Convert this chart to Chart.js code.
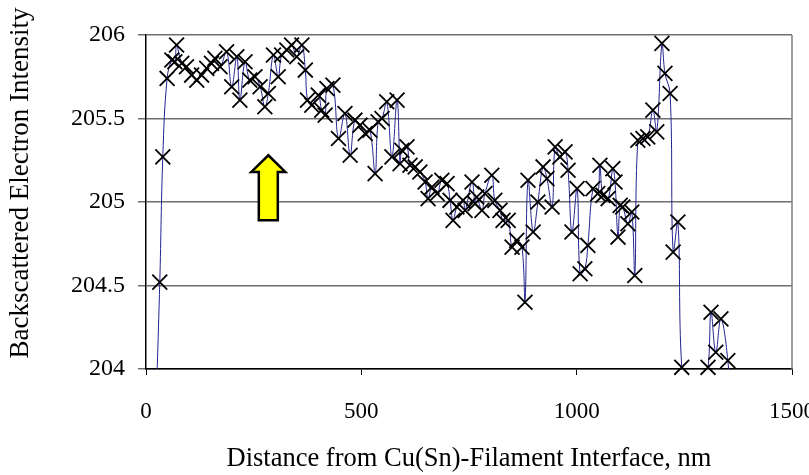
<!DOCTYPE html>
<html>
<head>
<meta charset="utf-8">
<script src="https://cdn.jsdelivr.net/npm/chart.js@4"></script>
<style>
  html, body { margin: 0; padding: 0; background: #fff; }
  #wrap { width: 809px; height: 475px; position: relative; }
</style>
</head>
<body>
<div id="wrap"><canvas id="bse-chart"></canvas></div>
<script>
// --- dados ---
const distanceNm = [
  20, 32, 39, 49, 60, 67, 71, 83, 94, 106, 118, 129, 141, 152, 160, 172, 187, 199, 211, 218,
  230, 241, 253, 265, 276, 284, 296, 307, 315, 327, 338, 350, 362, 370, 375, 385, 400, 408, 416, 420,
  434, 447, 462, 474, 485, 497, 509, 520, 532, 539, 548, 559, 571, 583, 590, 594, 606, 613, 625, 636,
  648, 655, 664, 676, 687, 699, 706, 713, 722, 736, 741, 757, 764, 768, 780, 787, 803, 810, 822, 829,
  841, 850, 861, 873, 880, 887, 899, 910, 922, 931, 943, 950, 961, 973, 980, 989, 1001, 1008, 1019, 1026,
  1038, 1049, 1054, 1061, 1073, 1084, 1089, 1096, 1101, 1107, 1119, 1128, 1135, 1142, 1154, 1165, 1177, 1186, 1198, 1205,
  1217, 1224, 1235, 1244, 1270, 1305, 1312, 1323, 1335, 1351, 1362
];
const intensity = [
  203.5, 204.52, 205.27, 205.74, 205.85, 205.84, 205.94, 205.83, 205.81, 205.76, 205.73, 205.76, 205.80, 205.83, 205.86, 205.81, 205.90, 205.69, 205.87, 205.61,
  205.84, 205.73, 205.75, 205.69, 205.57, 205.65, 205.88, 205.75, 205.88, 205.91, 205.94, 205.87, 205.94, 205.79, 205.61, 205.58, 205.64, 205.55, 205.52, 205.68,
  205.70, 205.38, 205.53, 205.28, 205.49, 205.46, 205.41, 205.43, 205.17, 205.48, 205.50, 205.60, 205.27, 205.61, 205.23, 205.31, 205.33, 205.22, 205.21, 205.18,
  205.12, 205.02, 205.09, 205.05, 205.13, 205.11, 205.01, 204.89, 204.97, 205.01, 204.95, 205.12, 204.99, 205.03, 204.95, 205.05, 205.16, 205.01, 204.95, 204.89,
  204.89, 204.73, 204.77, 204.73, 204.40, 205.13, 204.82, 205.00, 205.21, 205.14, 204.97, 205.33, 205.27, 205.30, 205.19, 204.82, 205.08, 204.57, 204.60, 204.74,
  205.08, 205.05, 205.22, 205.04, 205.02, 205.20, 205.12, 204.79, 204.98, 204.97, 204.87, 204.94, 204.56, 205.37, 205.38, 205.39, 205.55, 205.42, 205.95, 205.77,
  205.65, 204.70, 204.88, 204.01, 203.4, 204.01, 204.34, 204.10, 204.30, 204.05, 203.6
];
const xTicks = [0, 500, 1000, 1500];
const yTicks = [204, 204.5, 205, 205.5, 206];

// seta amarela (posição em unidades do gráfico)
const arrowAt = { x: 284, tip: 205.28, headBase: 205.18, bottom: 204.89 };

const yTitle = 'Backscattered Electron Intensity';

const allPoints = distanceNm.map((d, i) => ({ x: d, y: intensity[i] }));
const visiblePoints = allPoints.filter(p => p.y >= yTicks[0] && p.y <= yTicks[yTicks.length - 1]);

const serif = "'Liberation Serif', 'DejaVu Serif', serif";

const frameAndArrow = {
  id: 'frameAndArrow',
  beforeDatasetsDraw(chart) {
    const { ctx, chartArea } = chart;
    ctx.save();
    ctx.strokeStyle = '#808080';
    ctx.lineWidth = 1.5;
    ctx.beginPath();
    ctx.moveTo(chartArea.right, chartArea.top);
    ctx.lineTo(chartArea.right, chartArea.bottom);
    ctx.stroke();
    ctx.restore();
  },
  afterDraw(chart) {
    const { ctx } = chart;
    const xs = chart.scales.x, ys = chart.scales.y;
    const cx = xs.getPixelForValue(arrowAt.x);
    const tipY = ys.getPixelForValue(arrowAt.tip);
    const headY = ys.getPixelForValue(arrowAt.headBase);
    const botY = ys.getPixelForValue(arrowAt.bottom);
    const headHalf = 17, bodyHalf = 9.5;
    ctx.save();
    ctx.beginPath();
    ctx.moveTo(cx, tipY);
    ctx.lineTo(cx + headHalf, headY);
    ctx.lineTo(cx + bodyHalf, headY);
    ctx.lineTo(cx + bodyHalf, botY);
    ctx.lineTo(cx - bodyHalf, botY);
    ctx.lineTo(cx - bodyHalf, headY);
    ctx.lineTo(cx - headHalf, headY);
    ctx.closePath();
    ctx.fillStyle = '#FFFF00';
    ctx.fill();
    ctx.lineWidth = 2.5;
    ctx.strokeStyle = '#000';
    ctx.stroke();

    // titulo do eixo y (um pouco acima do centro, como no original)
    ctx.translate(21, 183);
    ctx.rotate(-Math.PI / 2);
    ctx.font = `27px ${serif}`;
    ctx.fillStyle = '#000';
    ctx.textAlign = 'center';
    ctx.textBaseline = 'middle';
    ctx.fillText(yTitle, 0, 0);
    ctx.restore();
  }
};

new Chart(document.getElementById('bse-chart'), {
  type: 'line',
  data: {
    datasets: [
      {
        data: allPoints,
        borderColor: '#23238f',
        borderWidth: 1,
        tension: 0.4,
        pointRadius: 0,
        fill: false,
        order: 2
      },
      {
        data: visiblePoints,
        showLine: false,
        pointStyle: 'crossRot',
        pointRadius: 10.5,
        pointBorderWidth: 1.8,
        pointBorderColor: '#000',
        pointBackgroundColor: '#000',
        clip: false,
        order: 1
      }
    ]
  },
  options: {
    responsive: true,
    maintainAspectRatio: false,
    animation: false,
    events: [],
    layout: { padding: { left: 0, right: 17, top: 35, bottom: 0 } },
    plugins: { legend: { display: false }, tooltip: { enabled: false } },
    scales: {
      x: {
        type: 'linear',
        min: 0,
        max: 1500,
        afterBuildTicks: (s) => { s.ticks = xTicks.map(v => ({ value: v })); },
        afterFit: (s) => { s.height = 106; s.paddingLeft = 0; s.paddingRight = 0; },
        border: { color: '#000', width: 1.5 },
        grid: { drawOnChartArea: false, drawTicks: true, tickLength: 6, color: '#000' },
        ticks: {
          color: '#000',
          font: { family: serif, size: 23 },
          padding: 23,
          maxRotation: 0,
          callback: (v) => String(v)
        },
        title: {
          display: true,
          text: 'Distance from Cu(Sn)-Filament Interface, nm',
          color: '#000',
          font: { family: serif, size: 26.5 },
          padding: { top: 2, bottom: 0 }
        }
      },
      y: {
        min: 204,
        max: 206,
        afterBuildTicks: (s) => { s.ticks = yTicks.map(v => ({ value: v })); },
        afterFit: (s) => { s.width = 146; s.paddingTop = 0; s.paddingBottom = 0; },
        border: { color: '#000', width: 1.5 },
        grid: { color: '#6e6e6e', lineWidth: 1.5, tickLength: 8, tickColor: '#6e6e6e' },
        ticks: {
          color: '#000',
          font: { family: serif, size: 24 },
          padding: 13,
          callback: (v) => String(v)
        }
      }
    }
  },
  plugins: [frameAndArrow]
});
</script>
</body>
</html>
